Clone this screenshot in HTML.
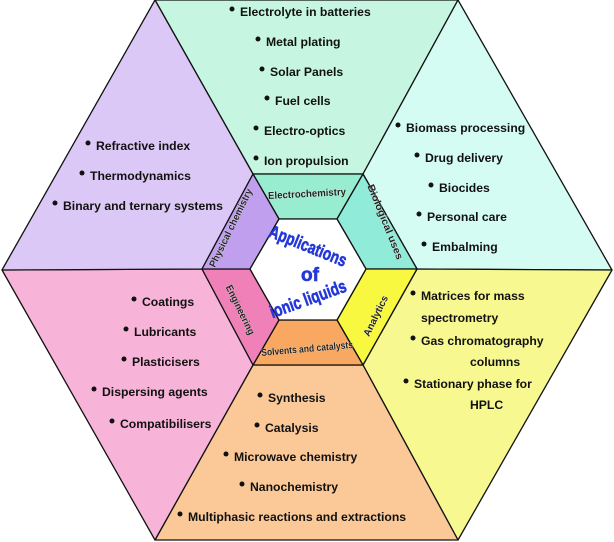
<!DOCTYPE html>
<html><head><meta charset="utf-8"><style>
html,body{margin:0;padding:0;background:#fff;}
svg{display:block;}
text{font-family:"Liberation Sans",Arial,sans-serif;font-weight:bold;}
</style></head><body>
<svg width="614" height="542" viewBox="0 0 614 542" xmlns="http://www.w3.org/2000/svg">
<g stroke="#111" stroke-width="1.3" stroke-linejoin="round">
<polygon points="155,0 458,0 363,174 253,174" fill="#c6f6e2"/>
<polygon points="458,0 612,270 417,269 363,174" fill="#d4fcf3"/>
<polygon points="612,270 458,540 363,365 417,269" fill="#f8f890"/>
<polygon points="458,540 155,540 253,365 363,365" fill="#fbc898"/>
<polygon points="155,540 2,270 202,269 253,365" fill="#f8b4d8"/>
<polygon points="2,270 155,0 253,174 202,269" fill="#dcc8f6"/>
<polygon points="253,174 363,174 337,219 279,219" fill="#98ecd0"/>
<polygon points="363,174 417,269 366,269 337,219" fill="#90ecd8"/>
<polygon points="417,269 363,365 337,320 366,269" fill="#f8f840"/>
<polygon points="363,365 253,365 279,320 337,320" fill="#f8a860"/>
<polygon points="253,365 202,269 250,269 279,320" fill="#f080b8"/>
<polygon points="202,269 253,174 279,219 250,269" fill="#c0a0ee"/>
<polygon points="279,219 337,219 366,269 337,320 279,320 250,269" fill="#ffffff"/>
</g>
<g font-size="12.2" fill="#111">
<g>
<circle cx="232" cy="9" r="2.5"/><text x="240" y="16">Electrolyte in batteries</text>
<circle cx="258" cy="39" r="2.5"/><text x="266" y="46">Metal plating</text>
<circle cx="262" cy="69" r="2.5"/><text x="270" y="76">Solar Panels</text>
<circle cx="267" cy="98" r="2.5"/><text x="275" y="105">Fuel cells</text>
<circle cx="256" cy="128" r="2.5"/><text x="264" y="135">Electro-optics</text>
<circle cx="256" cy="158" r="2.5"/><text x="264" y="165">Ion propulsion</text>
</g>
<g>
<circle cx="88" cy="143" r="2.5"/><text x="96" y="150">Refractive index</text>
<circle cx="82" cy="173" r="2.5"/><text x="90" y="180">Thermodynamics</text>
<circle cx="55" cy="203" r="2.5"/><text x="63" y="210">Binary and ternary systems</text>
</g>
<g>
<circle cx="398" cy="125" r="2.5"/><text x="406" y="132">Biomass processing</text>
<circle cx="417" cy="155" r="2.5"/><text x="425" y="162">Drug delivery</text>
<circle cx="431" cy="185" r="2.5"/><text x="439" y="192">Biocides</text>
<circle cx="419" cy="214" r="2.5"/><text x="427" y="221">Personal care</text>
<circle cx="424" cy="244" r="2.5"/><text x="432" y="251">Embalming</text>
</g>
<g>
<circle cx="413" cy="293" r="2.5"/><text x="421" y="300">Matrices for mass</text>
<text x="421" y="322">spectrometry</text>
<circle cx="413" cy="338" r="2.5"/><text x="421" y="345">Gas chromatography</text>
<text x="470" y="366">columns</text>
<circle cx="406" cy="381" r="2.5"/><text x="414" y="388">Stationary phase for</text>
<text x="470" y="409">HPLC</text>
</g>
<g>
<circle cx="134" cy="299" r="2.5"/><text x="142" y="306">Coatings</text>
<circle cx="126" cy="329" r="2.5"/><text x="134" y="336">Lubricants</text>
<circle cx="124" cy="359" r="2.5"/><text x="132" y="366">Plasticisers</text>
<circle cx="94" cy="389" r="2.5"/><text x="102" y="396">Dispersing agents</text>
<circle cx="112" cy="421" r="2.5"/><text x="120" y="428">Compatibilisers</text>
</g>
<g>
<circle cx="260" cy="395" r="2.5"/><text x="268" y="402">Synthesis</text>
<circle cx="257" cy="425" r="2.5"/><text x="265" y="432">Catalysis</text>
<circle cx="226" cy="454" r="2.5"/><text x="234" y="461">Microwave chemistry</text>
<circle cx="242" cy="484" r="2.5"/><text x="250" y="491">Nanochemistry</text>
<circle cx="180" cy="514" r="2.5"/><text x="188" y="521">Multiphasic reactions and extractions</text>
</g>
</g>
<g font-size="10" fill="#222" stroke="#fff" stroke-width="0.4" text-anchor="middle" paint-order="stroke">
<text x="307" y="197" transform="rotate(-3 307 193)" textLength="78" lengthAdjust="spacingAndGlyphs">Electrochemistry</text>
<text x="0" y="3" transform="translate(385 222) rotate(68)" textLength="80" lengthAdjust="spacingAndGlyphs">Biological uses</text>
<text x="0" y="3" transform="translate(376 316) rotate(-64)" textLength="44" lengthAdjust="spacingAndGlyphs">Analytics</text>
<text x="307" y="352" transform="rotate(-5 307 348)" textLength="92" lengthAdjust="spacingAndGlyphs">Solvents and catalysts</text>
<text x="0" y="3" transform="translate(240 310) rotate(64)" textLength="54" lengthAdjust="spacingAndGlyphs">Engineering</text>
<text x="0" y="3" transform="translate(231 228) rotate(-64)" textLength="86" lengthAdjust="spacingAndGlyphs">Physical chemistry</text>
</g>
<g fill="#2438d8" stroke="#2438d8" stroke-width="0.6" text-anchor="middle">
<text x="0" y="6" transform="translate(308 246) rotate(22)" font-size="18" textLength="82" lengthAdjust="spacingAndGlyphs">Applications</text>
<text x="310" y="281" font-size="19">of</text>
<text x="0" y="6" transform="translate(308 299) rotate(-20)" font-size="18" textLength="80" lengthAdjust="spacingAndGlyphs">ionic liquids</text>
</g>
</svg>
</body></html>
